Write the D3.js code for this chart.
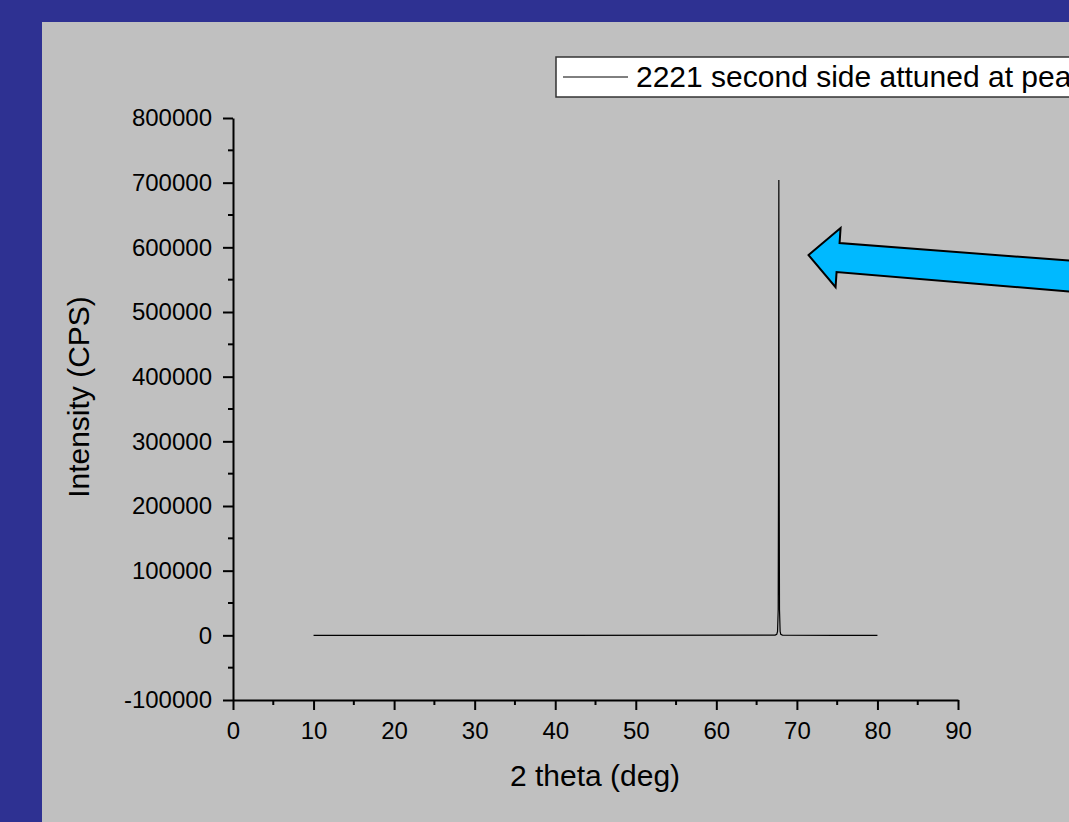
<!DOCTYPE html>
<html>
<head>
<meta charset="utf-8">
<script src="https://cdn.jsdelivr.net/npm/d3@7"></script>
<style>
  html, body { margin: 0; padding: 0; background: #2E3192; }
  svg { display: block; font-family: "Liberation Sans", Arial, sans-serif; }
</style>
</head>
<body>
<svg id="chart"></svg>
<script>
// XRD scan
let twoTheta = [10, 40, 67.3, 67.5, 67.6, 67.68, 67.72, 67.76, 67.8, 67.84, 67.92, 68.0, 68.2, 75, 80];
let intensity = [0, 0, 400, 1500, 6000, 40000, 250000, 704000, 250000, 40000, 6000, 1500, 400, 0, 0];

let xTicks = [0, 10, 20, 30, 40, 50, 60, 70, 80, 90];
let yTicks = [-100000, 0, 100000, 200000, 300000, 400000, 500000, 600000, 700000, 800000];
let legendLabel = "2221 second side attuned at peak";

let W = 1069, H = 822;
let svg = d3.select("#chart").attr("width", W).attr("height", H);

// grey panel
svg.append("rect")
  .attr("x", 42).attr("y", 22)
  .attr("width", W - 42).attr("height", H - 22)
  .attr("fill", "#C0C0C0");

let x = d3.scaleLinear().domain([0, 90]).range([233, 958]);
let y = d3.scaleLinear().domain([-100000, 800000]).range([700, 118]);

let g = svg.append("g");

// minor ticks
let xMinor = d3.range(5, 90, 10);
let yMinor = d3.range(-50000, 800000, 100000);

g.append("g").selectAll("line")
  .data(xMinor)
  .join("line")
  .attr("x1", d => x(d)).attr("x2", d => x(d))
  .attr("y1", 700).attr("y2", 705)
  .attr("stroke", "black").attr("stroke-width", 2);

g.append("g").selectAll("line")
  .data(yMinor)
  .join("line")
  .attr("y1", d => y(d)).attr("y2", d => y(d))
  .attr("x1", 233).attr("x2", 228)
  .attr("stroke", "black").attr("stroke-width", 2);

// X axis
let xAxis = g.append("g")
  .attr("transform", "translate(0,700)")
  .call(d3.axisBottom(x).tickValues(xTicks).tickSize(10).tickSizeOuter(0).tickPadding(12));

// Y axis
let yAxis = g.append("g")
  .attr("transform", "translate(233,0)")
  .call(d3.axisLeft(y).tickValues(yTicks).tickSize(10).tickSizeOuter(0).tickPadding(11)
    .tickFormat(d => String(d)));

[xAxis, yAxis].forEach(a => {
  a.select(".domain").attr("stroke", "black").attr("stroke-width", 2);
  a.selectAll(".tick line").attr("stroke", "black").attr("stroke-width", 2);
  a.selectAll(".tick text")
    .attr("fill", "black")
    .style("font-size", "24px")
    .style("font-family", "'Liberation Sans', Arial, sans-serif");
});

// axis titles
svg.append("text")
  .attr("x", 595).attr("y", 786)
  .attr("text-anchor", "middle")
  .style("font-size", "30px")
  .text("2 theta (deg)");

svg.append("text")
  .attr("transform", "translate(89,397) rotate(-90)")
  .attr("text-anchor", "middle")
  .style("font-size", "30px")
  .text("Intensity (CPS)");

// data line
let pts = twoTheta.map((d, i) => [d, intensity[i]]);
svg.append("path")
  .datum(pts)
  .attr("fill", "none")
  .attr("stroke", "black")
  .attr("stroke-width", 1.2)
  .attr("d", d3.line().x(d => x(d[0])).y(d => y(d[1])));

// legend box
let leg = svg.append("g");
leg.append("rect")
  .attr("x", 556).attr("y", 57)
  .attr("width", 600).attr("height", 40)
  .attr("fill", "white")
  .attr("stroke", "#333").attr("stroke-width", 1.5);
leg.append("line")
  .attr("x1", 563).attr("x2", 628)
  .attr("y1", 77).attr("y2", 77)
  .attr("stroke", "black").attr("stroke-width", 1);
leg.append("text")
  .attr("x", 636).attr("y", 87)
  .style("font-size", "30px")
  .text(legendLabel);

// annotation arrow pointing at the peak
let tipX = x(71.45), tipY = y(588000);
let arrowPts = [
  [tipX, tipY],
  [tipX + 32, tipY - 27],
  [tipX + 31, tipY - 12],
  [W + 20, tipY + 7],
  [W + 20, tipY + 38],
  [tipX + 28, tipY + 17],
  [tipX + 27, tipY + 32]
];
svg.append("path")
  .attr("d", d3.line()(arrowPts) + "Z")
  .attr("fill", "#00B9FF")
  .attr("stroke", "black")
  .attr("stroke-width", 2)
  .attr("stroke-linejoin", "miter");
</script>
</body>
</html>
